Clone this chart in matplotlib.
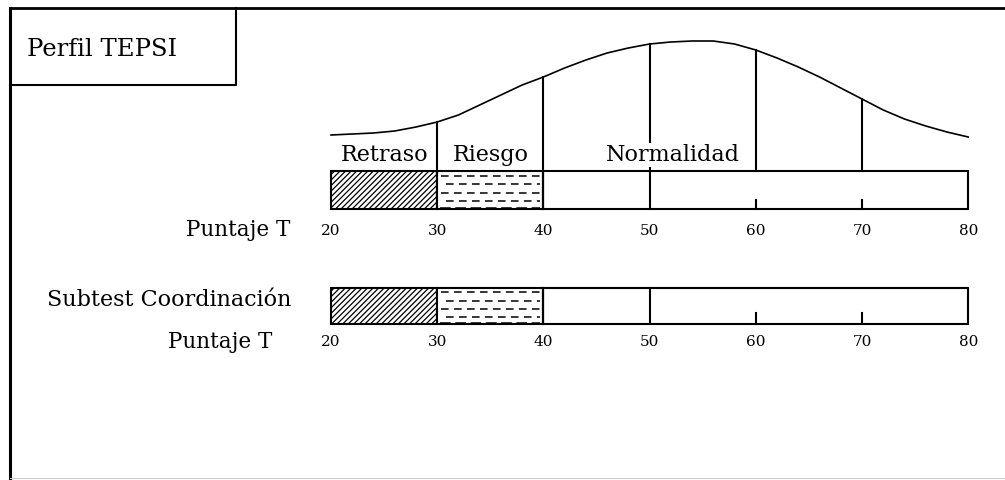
import numpy as np
import matplotlib.pyplot as plt
from matplotlib.patches import Rectangle

plt.rcParams['font.family'] = ['DejaVu Serif']
plt.rcParams['hatch.linewidth'] = 0.9

# T-score scale
scale_ticks = [20, 30, 40, 50, 60, 70, 80]
band_edges = [20, 30, 40, 80]
band_labels = ['Retraso', 'Riesgo', 'Normalidad']
band_label_x = [25, 35, 52.2]

# normal-ish curve (height in pixel rows from top)
curve_t = [20, 22, 24, 26, 28, 30, 32, 34, 36, 38, 40, 42, 44, 46, 48, 50,
           52, 54, 56, 58, 60, 62, 64, 66, 68, 70, 72, 74, 76, 78, 80]
curve_y = [135, 134, 133, 131, 127, 122, 115, 105, 95, 85, 77, 68, 60, 53, 48, 44,
           42, 41, 41, 44, 50, 58, 67, 77, 88, 99, 110, 119, 126, 132, 137]

row_labels = ['Puntaje T', 'Subtest Coordinación', 'Puntaje T']

fig = plt.figure(figsize=(10.05, 4.8), dpi=100)

# frame axes in pixel coordinates
frame = fig.add_axes([0, 0, 1, 1])
frame.set_xlim(0, 1005)
frame.set_ylim(480, 0)
frame.axis('off')

# chart axes: x in T units, y in pixel rows
px_per_t = 10.62
ax = fig.add_axes([0, 0, 1, 1])
ax.set_xlim(20 - 331 / px_per_t, 20 + (1005 - 331) / px_per_t)
ax.set_ylim(480, 0)
ax.axis('off')
ax.patch.set_alpha(0)

lw = 1.5
k = 'black'

# outer frame + title box
frame.plot([10, 1005], [8, 8], color=k, lw=2)
frame.plot([10, 10], [8, 480], color=k, lw=2.2)
frame.plot([10, 236, 236], [85, 85, 8], color=k, lw=1.5)
frame.plot([10, 1005], [478, 478], color='#cccccc', lw=0.8)
frame.text(27, 49, 'Perfil TEPSI', fontsize=17.5, va='center', ha='left')


def draw_bar(top, bottom):
    h = bottom - top
    # Retraso: diagonal hatch
    ax.add_patch(Rectangle((band_edges[0], top), band_edges[1] - band_edges[0], h,
                           facecolor='white', edgecolor=k, hatch='//////', lw=lw))
    # Riesgo: dashed rows
    ax.add_patch(Rectangle((band_edges[1], top), band_edges[2] - band_edges[1], h,
                           facecolor='white', edgecolor=k, lw=lw))
    for i, f in enumerate([0.12, 0.35, 0.58, 0.8]):
        ax.hlines(top + f * h, band_edges[1] + 0.4 + (i % 2) * 0.4, band_edges[2] - 0.3,
                  color=k, lw=1.1, linestyles=(0, (5, 3.5)))
    ax.hlines(bottom - 0.12 * h * 0.3, band_edges[1] + 0.3, band_edges[2] - 0.3,
              color=k, lw=1.1, linestyles=(0, (7, 3)))
    # Normalidad: empty
    ax.add_patch(Rectangle((band_edges[2], top), band_edges[3] - band_edges[2], h,
                           facecolor='none', edgecolor=k, lw=lw))


# ---- top profile ----
top1, bot1 = 171, 209
ax.plot(curve_t, curve_y, color=k, lw=1.2)
draw_bar(top1, bot1)
curve_at = dict(zip(curve_t, curve_y))
for t in [30, 40, 50]:
    ax.plot([t, t], [bot1, curve_at[t]], color=k, lw=lw)
for t in [60, 70]:
    ax.plot([t, t], [top1, curve_at[t]], color=k, lw=lw)
    ax.plot([t, t], [bot1, bot1 - 9], color=k, lw=lw)

for lab, x in zip(band_labels, band_label_x):
    bb = dict(facecolor='white', edgecolor='none', pad=1) if lab == 'Normalidad' else None
    ax.text(x, 155, lab, ha='center', va='center', fontsize=16, bbox=bb, zorder=5)

for t in scale_ticks:
    ax.text(t, 231, str(t), ha='center', va='center', fontsize=11)
frame.text(290, 230, row_labels[0], ha='right', va='center', fontsize=15.5)

# ---- subtest bar ----
top2, bot2 = 288, 324
draw_bar(top2, bot2)
for t in [40, 50]:
    ax.plot([t, t], [top2, bot2], color=k, lw=lw)
for t in [60, 70]:
    ax.plot([t, t], [bot2, bot2 - 11], color=k, lw=lw)
for t in scale_ticks:
    ax.text(t, 342, str(t), ha='center', va='center', fontsize=11)
frame.text(291, 300, row_labels[1], ha='right', va='center', fontsize=16)
frame.text(272, 342, row_labels[2], ha='right', va='center', fontsize=15.5)

fig.savefig('out.png', dpi=100)
